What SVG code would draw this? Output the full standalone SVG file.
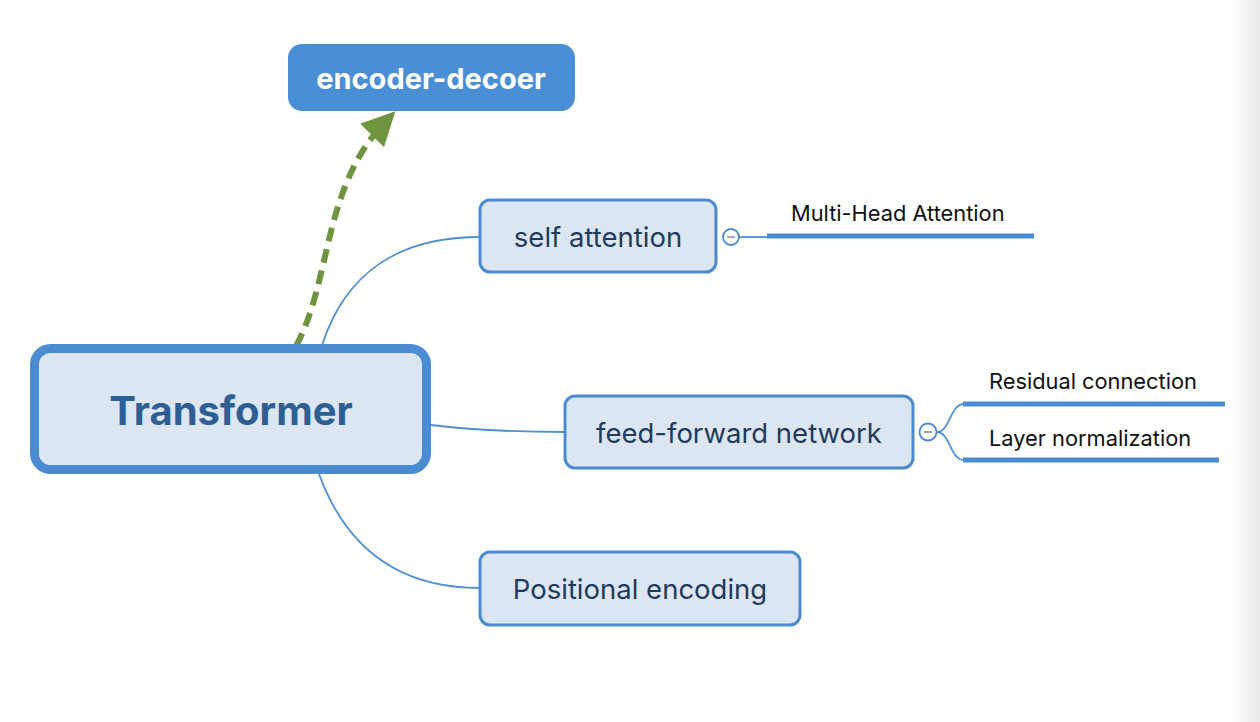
<svg xmlns="http://www.w3.org/2000/svg" width="1260" height="722" viewBox="0 0 1260 722">
  <defs>
    <linearGradient id="edge" x1="0" y1="0" x2="1" y2="0">
      <stop offset="0" stop-color="#ffffff"/>
      <stop offset="1" stop-color="#e9e9e9"/>
    </linearGradient>
    <marker id="greenArrow" viewBox="0 0 10 10" refX="6" refY="5" markerWidth="5.6" markerHeight="5.6" markerUnits="strokeWidth" orient="auto">
      <path d="M0,0 L10,5 L0,10 Z" fill="#6f9440"/>
    </marker>
  </defs>
  <style>
    .topic { fill: #dce6f3; stroke: #4a8bd2; stroke-width: 3; }
    .topic-text { font-family: Inter, "Liberation Sans", sans-serif; font-size: 27.5px; fill: #1d3b5f; text-anchor: middle; }
    .sub-text { font-family: Inter, "Liberation Sans", sans-serif; font-size: 21.8px; fill: #111111; }
    .branch { fill: none; stroke: #4f8fd3; stroke-width: 1.8; }
    .underline { fill: none; stroke: #4a8bd2; stroke-width: 5; }
    .collapse { fill: #ffffff; stroke: #4a8bd2; stroke-width: 1.8; }
    .minus { stroke: #8a93a0; stroke-width: 1.6; }
  </style>
  <rect x="0" y="0" width="1260" height="722" fill="#ffffff"/>
  <rect x="1232" y="0" width="28" height="722" fill="url(#edge)"/>

  <g id="connectors">
    <path class="branch" d="M322,345 C345,275 395,237 480,237"/>
    <path class="branch" d="M431,425 C480,431 520,432 565,432"/>
    <path class="branch" d="M319,474 C345,545 395,588 480,588"/>
    <path fill="none" stroke="#6f9440" stroke-width="6" stroke-dasharray="14,8" d="M296,346 C332,280 322,187 386,121" marker-end="url(#greenArrow)"/>
    <line class="branch" x1="739" y1="237" x2="767" y2="237"/>
    <path class="branch" d="M937,432 C950,432 950,404 964,404"/>
    <path class="branch" d="M937,432 C950,432 950,460 964,460"/>
  </g>

  <g id="node-encoder-decoer">
    <rect x="288" y="44" width="287" height="67" rx="14" fill="#4a8fd6"/>
    <text x="431" y="89" font-family="Inter, 'Liberation Sans', sans-serif" font-size="29" font-weight="bold" fill="#ffffff" text-anchor="middle">encoder-decoer</text>
  </g>

  <g id="node-transformer">
    <rect x="34.5" y="348.5" width="392" height="121" rx="16" fill="#dce6f3" stroke="#4a8bd2" stroke-width="9"/>
    <text x="231" y="425" font-family="Inter, 'Liberation Sans', sans-serif" font-size="40" font-weight="bold" fill="#2d5f95" text-anchor="middle">Transformer</text>
  </g>

  <g id="node-self-attention">
    <rect class="topic" x="480" y="200" width="236" height="72" rx="10"/>
    <text class="topic-text" x="598" y="247">self attention</text>
  </g>

  <g id="node-feed-forward">
    <rect class="topic" x="565" y="396" width="348" height="72" rx="10"/>
    <text class="topic-text" x="739" y="443">feed-forward network</text>
  </g>

  <g id="node-positional-encoding">
    <rect class="topic" x="480" y="552" width="320" height="73" rx="10"/>
    <text class="topic-text" x="640" y="599">Positional encoding</text>
  </g>

  <g id="collapse-self-attention">
    <circle class="collapse" cx="731" cy="237" r="8"/>
    <line class="minus" x1="727" y1="237" x2="735" y2="237"/>
  </g>

  <g id="collapse-feed-forward">
    <circle class="collapse" cx="928" cy="432" r="8.5"/>
    <line class="minus" x1="924" y1="432" x2="932" y2="432"/>
  </g>

  <g id="node-multi-head">
    <line class="underline" x1="767" y1="236" x2="1034" y2="236"/>
    <text class="sub-text" x="791" y="221">Multi-Head Attention</text>
  </g>

  <g id="node-residual">
    <line class="underline" x1="963" y1="404" x2="1225" y2="404"/>
    <text class="sub-text" x="989" y="389">Residual connection</text>
  </g>

  <g id="node-layer-norm">
    <line class="underline" x1="963" y1="460" x2="1219" y2="460"/>
    <text class="sub-text" x="989" y="446">Layer normalization</text>
  </g>
</svg>
